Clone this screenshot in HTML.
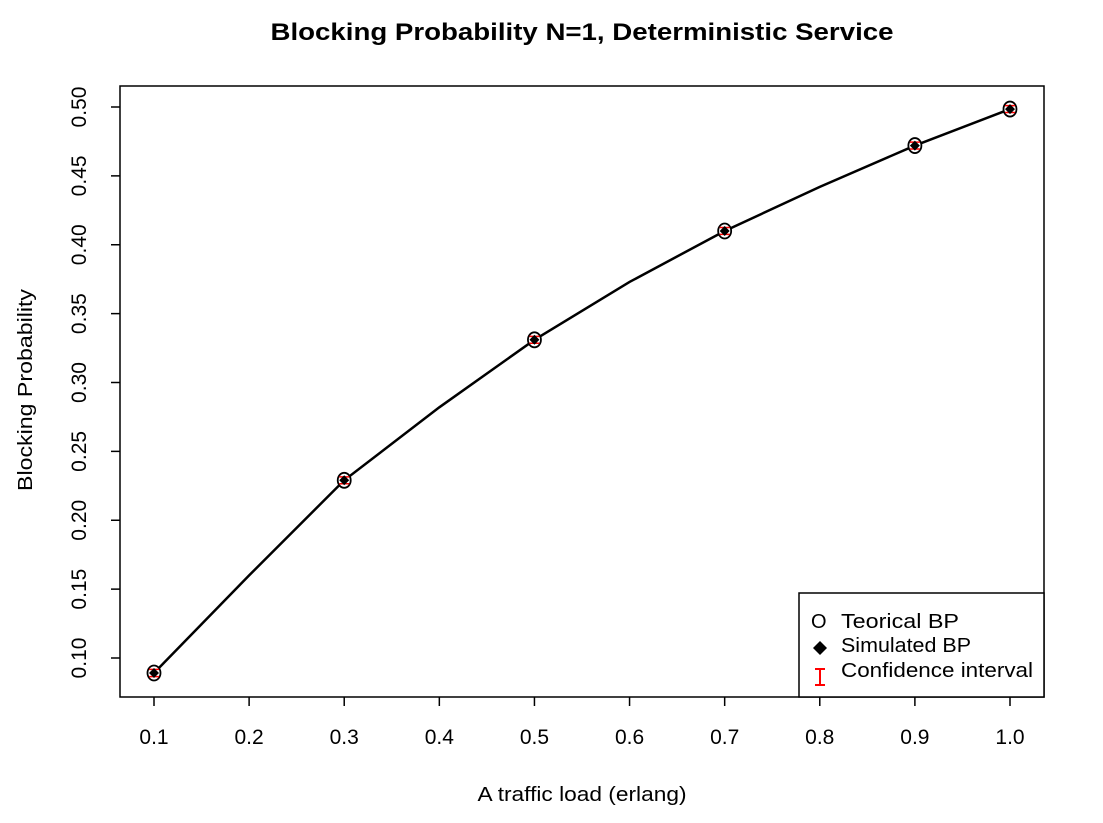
<!DOCTYPE html>
<html><head><meta charset="utf-8"><style>
body{margin:0;background:#fff}
svg text{font-family:"Liberation Sans",Arial,sans-serif}
</style></head><body>
<svg id="chart" width="1103" height="818" xmlns="http://www.w3.org/2000/svg">
<rect width="1103" height="818" fill="#fff"/>
<text x="582" y="40" text-anchor="middle" font-size="24" font-weight="bold" textLength="623" lengthAdjust="spacingAndGlyphs">Blocking Probability N=1, Deterministic Service</text>
<rect x="120" y="86" width="924" height="611" fill="none" stroke="#000" stroke-width="1.5"/>
<g id="xaxis"></g>
<g id="yaxis"></g>
<text x="582" y="801" text-anchor="middle" font-size="20" textLength="209" lengthAdjust="spacingAndGlyphs">A traffic load (erlang)</text>
<text transform="translate(32,390) rotate(-90)" text-anchor="middle" font-size="20" textLength="202" lengthAdjust="spacingAndGlyphs">Blocking Probability</text>
<g id="marks"></g>
<g>
<rect x="799" y="593" width="245" height="104" fill="#fff" stroke="#000" stroke-width="1.5"/>
<text x="811" y="628" font-size="20">O</text>
<text x="841" y="628" font-size="20" textLength="118" lengthAdjust="spacingAndGlyphs">Teorical BP</text>
<path d="M820 641 l7 7 l-7 7 l-7 -7z" fill="#000"/>
<text x="841" y="652" font-size="20" textLength="130" lengthAdjust="spacingAndGlyphs">Simulated BP</text>
<path d="M815 669 h10 M820 669 v16 M815 685 h10" stroke="red" stroke-width="2" fill="none"/>
<text x="841" y="677" font-size="20" textLength="192" lengthAdjust="spacingAndGlyphs">Confidence interval</text>
</g>
</svg>
<script>
const lineX=[0.1,0.2,0.3,0.4,0.5,0.6,0.7,0.8,0.9,1.0];
const lineY=[0.0891,0.160,0.229,0.282,0.331,0.373,0.410,0.442,0.472,0.4985];
const pointX=[0.1,0.3,0.5,0.7,0.9,1.0];
const theoY=[0.0891,0.229,0.331,0.410,0.472,0.4985];
const simY=[0.0891,0.229,0.331,0.410,0.472,0.4985];
const ciLo=[0.0865,0.2265,0.3285,0.4075,0.4695,0.496];
const ciHi=[0.0917,0.2315,0.3335,0.4125,0.4745,0.501];
const xTicks=[0.1,0.2,0.3,0.4,0.5,0.6,0.7,0.8,0.9,1.0];
const yTicks=[0.10,0.15,0.20,0.25,0.30,0.35,0.40,0.45,0.50];
const X=v=>154+(v-0.1)*(1010-154)/0.9;
const Y=v=>658-(v-0.1)*(658-107)/0.4;
const NS="http://www.w3.org/2000/svg";
function mk(t,a,p){const e=document.createElementNS(NS,t);for(const k in a)e.setAttribute(k,a[k]);p.appendChild(e);return e;}
const xa=document.getElementById('xaxis'),ya=document.getElementById('yaxis'),m=document.getElementById('marks');
xTicks.forEach(t=>{const l=mk('line',{x1:X(t),x2:X(t),y1:697,y2:706,stroke:'#000','stroke-width':1.5},xa);


const s=mk('text',{x:X(t),y:744,'text-anchor':'middle','font-size':21},xa);s.textContent=t.toFixed(1);

});
yTicks.forEach(t=>{const l=mk('line',{x1:111,x2:120,y1:Y(t),y2:Y(t),stroke:'#000','stroke-width':1.5},ya);


const s=mk('text',{transform:`translate(86,${Y(t)}) rotate(-90)`,'text-anchor':'middle','font-size':21},ya);s.textContent=t.toFixed(2);

});
const pl=mk('polyline',{points:lineX.map((x,i)=>X(x)+','+Y(lineY[i])).join(' '),fill:'none',stroke:'#000','stroke-width':2.5},m);


pointX.forEach((x,i)=>{const cx=X(x);
const c=mk('ellipse',{cx:cx,cy:Y(theoY[i]),rx:6.5,ry:7.5,fill:'#fff',stroke:'#000','stroke-width':1.8},m);


const e=mk('path',{d:`M${cx-5} ${Y(ciHi[i])} h10 M${cx} ${Y(ciHi[i])} V${Y(ciLo[i])} M${cx-5} ${Y(ciLo[i])} h10`,stroke:'red','stroke-width':1.5,fill:'none'},m);


const cy=Y(simY[i]);
const d=mk('path',{d:`M${cx} ${cy-5} l5 5 l-5 5 l-5 -5z`,fill:'#000'},m);

});
</script>
</body></html>
